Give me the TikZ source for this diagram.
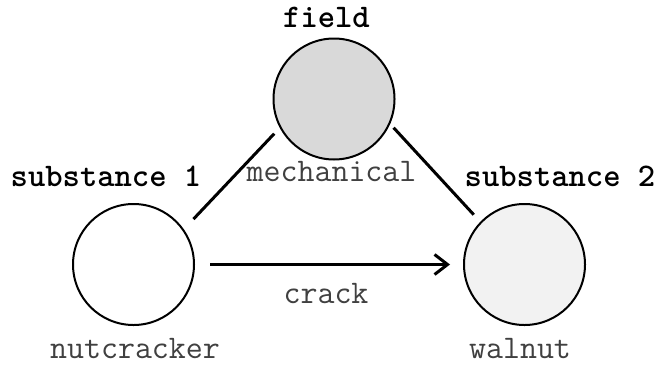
\documentclass[tikz,border=0pt]{standalone}
\usepackage{fontspec}
\usetikzlibrary{arrows.meta}
\begin{document}
\begin{tikzpicture}[x=1pt,y=-1pt,
  circ/.style={circle,draw=black,line width=2pt,minimum size=121pt,inner sep=0pt},
  head/.style={font=\ttfamily\bfseries\fontsize{33}{34}\selectfont,text=black,anchor=base,inner sep=0pt},
  lab/.style={font=\ttfamily\fontsize{33}{34}\selectfont,text=black!75,anchor=base,inner sep=0pt},
  conn/.style={line width=3pt},
]
\useasboundingbox (0,0) rectangle (660,367);
\node[circ,fill=black!15] (field) at (334,99) {};
\node[circ,fill=white] (s1) at (133.5,264.5) {};
\node[circ,fill=black!5] (s2) at (524.5,264.5) {};

\draw[conn,shorten <=14pt,shorten >=8pt] (s1.35.6) -- (field.208.4);
\draw[conn,shorten <=5pt,shorten >=9.6pt] (field.336.1) -- (s2.136.4);
\draw[conn,-{Straight Barb[length=13pt,width=20pt,line width=3pt]},shorten <=15pt,shorten >=13pt] (s1.east) -- (s2.west);

\node[head] (tfield) at (326.5,27) {field};
\node[head] (ts1) at (106,186) {substance 1};
\node[head] (ts2) at (560,186) {substance 2};
\node[lab] (tmech) at (331.5,181) {mechanical};
\node[lab] (tcrack) at (326,303) {crack};
\node[lab] (tnut) at (135,358) {nutcracker};
\node[lab] (twal) at (520,358) {walnut};
\end{tikzpicture}
\end{document}
